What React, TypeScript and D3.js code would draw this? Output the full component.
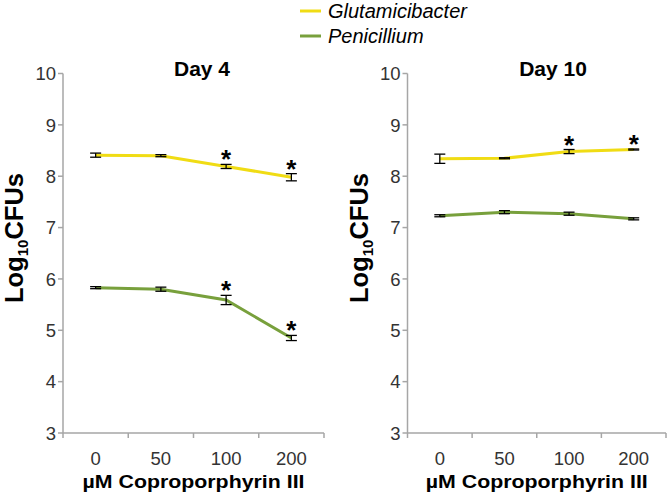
import React from "react";
import * as d3 from "d3";

const categories = ["0", "50", "100", "200"];
const yTicks = [3, 4, 5, 6, 7, 8, 9, 10];
const seriesNames = ["Glutamicibacter", "Penicillium"];
const seriesColors = ["#F0DC14", "#78A03C"];

const day4Glut = [8.41, 8.40, 8.19, 7.98];
const day4GlutErr = [0.04, 0.02, 0.04, 0.07];
const day4GlutSig = [false, false, true, true];
const day4Pen = [5.83, 5.80, 5.59, 4.85];
const day4PenErr = [0.02, 0.04, 0.09, 0.05];
const day4PenSig = [false, false, true, true];

const day10Glut = [8.34, 8.35, 8.48, 8.52];
const day10GlutErr = [0.09, 0.01, 0.04, 0.01];
const day10GlutSig = [false, false, true, true];
const day10Pen = [7.23, 7.30, 7.27, 7.17];
const day10PenErr = [0.02, 0.03, 0.03, 0.02];
const day10PenSig = [false, false, false, false];

const FONT = "'Liberation Sans', Arial, sans-serif";

type Series = { values: number[]; err: number[]; sig: boolean[]; color: string };

function Panel({ x0, x1, title, titleX, series }: { x0: number; x1: number; title: string; titleX: number; series: Series[] }) {
  const y = d3.scaleLinear().domain([3, 10]).range([433, 73.5]);
  const x = d3.scaleBand().domain(categories).range([x0, x1]);
  const cx = (c: string) => (x(c) as number) + x.bandwidth() / 2;
  const line = d3
    .line<number>()
    .x((_, i) => cx(categories[i]))
    .y((v) => y(v));
  const axisColor = "#A6A6A6";
  const bounds = [...categories.map((c) => x(c) as number), x1];
  return (
    <g>
      <line x1={x0} x2={x0} y1={y(10)} y2={y(3)} stroke={axisColor} strokeWidth={1.5} />
      {yTicks.map((t) => (
        <g key={t}>
          <line x1={x0 - 5} x2={x0} y1={y(t)} y2={y(t)} stroke={axisColor} strokeWidth={1.5} />
          <text x={x0 - 7} y={y(t)} dy="0.36em" textAnchor="end" fontSize={18.5} fill="#333" fontFamily={FONT}>
            {t}
          </text>
        </g>
      ))}
      <line x1={x0} x2={x1} y1={y(3)} y2={y(3)} stroke={axisColor} strokeWidth={1.5} />
      {bounds.map((b, i) => (
        <line key={i} x1={b} x2={b} y1={y(3)} y2={y(3) + 5} stroke={axisColor} strokeWidth={1.5} />
      ))}
      {categories.map((c) => (
        <text key={c} x={cx(c)} y={465} textAnchor="middle" fontSize={18.5} fill="#333" fontFamily={FONT}>
          {c}
        </text>
      ))}
      <text
        x={(x0 + x1) / 2}
        y={488}
        textAnchor="middle"
        fontSize={18}
        fontWeight="bold"
        fill="#000"
        fontFamily={FONT}
        textLength={222}
        lengthAdjust="spacingAndGlyphs"
      >
        µM Coproporphyrin III
      </text>
      <text
        transform={`translate(${x0 - 40},${238}) rotate(-90)`}
        textAnchor="middle"
        fontSize={25.5}
        fontWeight="bold"
        fill="#000"
        fontFamily={FONT}
      >
        Log<tspan fontSize={15} dy={5}>10</tspan>
        <tspan dy={-5}>CFUs</tspan>
      </text>
      <text x={titleX} y={76} textAnchor="middle" fontSize={21} fontWeight="bold" fill="#000" fontFamily={FONT}>
        {title}
      </text>
      {series.map((s, si) => (
        <g key={si}>
          <path d={line(s.values) || ""} fill="none" stroke={s.color} strokeWidth={3} />
          {s.values.map((v, i) => {
            const px = cx(categories[i]);
            const top = y(v + s.err[i]);
            const bot = y(v - s.err[i]);
            return (
              <g key={i}>
                <line x1={px} x2={px} y1={top} y2={bot} stroke="#000" strokeWidth={1.3} />
                <line x1={px - 5.5} x2={px + 5.5} y1={top} y2={top} stroke="#000" strokeWidth={1.3} />
                <line x1={px - 5.5} x2={px + 5.5} y1={bot} y2={bot} stroke="#000" strokeWidth={1.3} />
                {s.sig[i] && (
                  <text x={px} y={top + 4} textAnchor="middle" fontSize={26} fontWeight="bold" fill="#000" fontFamily={FONT}>
                    *
                  </text>
                )}
              </g>
            );
          })}
        </g>
      ))}
    </g>
  );
}

export default function App() {
  const s4: Series[] = [
    { values: day4Glut, err: day4GlutErr, sig: day4GlutSig, color: seriesColors[0] },
    { values: day4Pen, err: day4PenErr, sig: day4PenSig, color: seriesColors[1] },
  ];
  const s10: Series[] = [
    { values: day10Glut, err: day10GlutErr, sig: day10GlutSig, color: seriesColors[0] },
    { values: day10Pen, err: day10PenErr, sig: day10PenSig, color: seriesColors[1] },
  ];
  return (
    <svg
      width={667}
      height={499}
      style={{ position: "absolute", left: 0, top: 0, background: "#fff" }}
      xmlns="http://www.w3.org/2000/svg"
    >
      <rect width={667} height={499} fill="#fff" />
      {seriesNames.map((n, i) => (
        <g key={n}>
          <line x1={300} x2={321} y1={11 + i * 25} y2={11 + i * 25} stroke={seriesColors[i]} strokeWidth={3} />
          <text x={328} y={17.5 + i * 25.5} fontSize={20} fontStyle="italic" fill="#000" fontFamily={FONT}>
            {n}
          </text>
        </g>
      ))}
      <Panel x0={63} x1={324} title="Day 4" titleX={202} series={s4} />
      <Panel x0={407.5} x1={666} title="Day 10" titleX={553} series={s10} />
    </svg>
  );
}
